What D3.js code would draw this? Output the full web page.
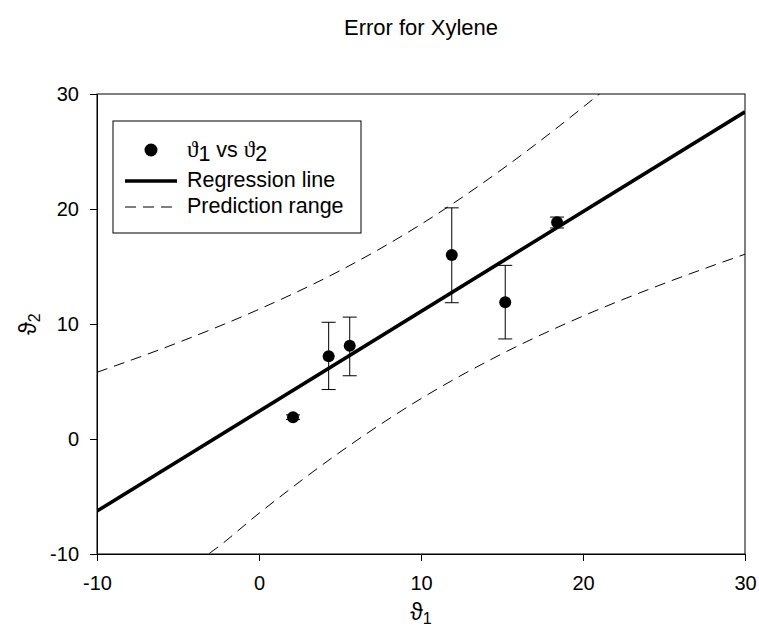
<!DOCTYPE html>
<html><head><meta charset="utf-8">
<script src="https://cdn.jsdelivr.net/npm/d3@7"></script>
<style>body{margin:0;background:#fff}text{font-family:Arial,"Liberation Sans",sans-serif}</style>
</head><body>
<svg id="c" width="759" height="643"></svg>
<script>
const xVals = [2.1, 4.3, 5.6, 11.9, 15.2, 18.4];
const yVals = [1.9, 7.2, 8.1, 16.0, 11.9, 18.85];
const errLow = [1.7, 4.3, 5.5, 11.85, 8.7, 18.35];
const errHigh = [2.1, 10.15, 10.6, 20.1, 15.1, 19.3];
const regX = [-10, 30];
const regY = [-6.27, 28.45];
const upperX = [-10, -5, 0, 5, 10, 15, 20, 21, 22];
const upperY = [5.8, 8.38, 11.28, 14.64, 18.67, 23.45, 28.85, 29.99, 31.1];
const lowerX = [-4, -3, 0, 5, 10, 15, 20, 25, 30];
const lowerY = [-10.8, -9.88, -6.46, -1.14, 3.51, 7.41, 10.69, 13.52, 16.07];
const xTicks = [-10, 0, 10, 20, 30];
const yTicks = [-10, 0, 10, 20, 30];
const title = "Error for Xylene";
const legendLabels = ["vs", "Regression line", "Prediction range"];

const svg = d3.select("#c");
const L = 97, R = 745, T = 94, B = 554;
const x = d3.scaleLinear().domain([-10, 30]).range([L, R]);
const y = d3.scaleLinear().domain([-10, 30]).range([B, T]);
const sans = "Arial, 'Liberation Sans', sans-serif";
const serif = "'Liberation Serif','Times New Roman',serif";

svg.append("text").attr("x", 421).attr("y", 35).attr("text-anchor", "middle")
  .attr("font-size", 22).text(title);

svg.append("defs").append("clipPath").attr("id", "clip")
  .append("rect").attr("x", L).attr("y", T).attr("width", R - L).attr("height", B - T);

svg.append("rect").attr("x", L).attr("y", T).attr("width", R - L).attr("height", B - T)
  .attr("fill", "none").attr("stroke", "#000").attr("stroke-width", 1);

const xa = svg.append("g").attr("transform", `translate(0,${B})`)
  .call(d3.axisBottom(x).tickValues(xTicks).tickSize(7).tickPadding(15).tickFormat(d => String(d)));
const ya = svg.append("g").attr("transform", `translate(${L},0)`)
  .call(d3.axisLeft(y).tickValues(yTicks).tickSize(7).tickPadding(11).tickFormat(d => String(d)));
[xa, ya].forEach(a => {
  a.selectAll("text").attr("font-size", 20).attr("font-family", sans).attr("fill", "#000");
  a.select(".domain").attr("stroke", "#000");
  a.selectAll(".tick line").attr("stroke", "#000");
});

const xl = svg.append("text").attr("x", 421).attr("y", 620).attr("text-anchor", "middle")
  .attr("font-family", serif).attr("font-size", 23);
xl.append("tspan").text("\u03d1");
xl.append("tspan").attr("dy", 4).attr("font-size", 16).text("1");

const yl = svg.append("text").attr("transform", "translate(36,324) rotate(-90)").attr("text-anchor", "middle")
  .attr("font-family", serif).attr("font-size", 23);
yl.append("tspan").text("\u03d1");
yl.append("tspan").attr("dy", 4).attr("font-size", 16).text("2");

const plot = svg.append("g").attr("clip-path", "url(#clip)");
const line = d3.line().x(d => x(d[0])).y(d => y(d[1])).curve(d3.curveMonotoneX);

plot.append("path").datum(d3.zip(upperX, upperY)).attr("d", line)
  .attr("fill", "none").attr("stroke", "#000").attr("stroke-width", 1).attr("stroke-dasharray", "11,7");
plot.append("path").datum(d3.zip(lowerX, lowerY)).attr("d", line)
  .attr("fill", "none").attr("stroke", "#000").attr("stroke-width", 1).attr("stroke-dasharray", "11,7");
plot.append("path").datum(d3.zip(regX, regY)).attr("d", d3.line().x(d => x(d[0])).y(d => y(d[1])))
  .attr("fill", "none").attr("stroke", "#000").attr("stroke-width", 3.5);

const pts = xVals.map((v, i) => ({x: v, y: yVals[i], lo: errLow[i], hi: errHigh[i]}));
const eb = plot.selectAll(".eb").data(pts).enter().append("g");
eb.append("line").attr("x1", d => x(d.x)).attr("x2", d => x(d.x)).attr("y1", d => y(d.lo)).attr("y2", d => y(d.hi))
  .attr("stroke", "#000").attr("stroke-width", 1);
eb.append("line").attr("x1", d => x(d.x) - 7).attr("x2", d => x(d.x) + 7).attr("y1", d => y(d.lo)).attr("y2", d => y(d.lo))
  .attr("stroke", "#000").attr("stroke-width", 1);
eb.append("line").attr("x1", d => x(d.x) - 7).attr("x2", d => x(d.x) + 7).attr("y1", d => y(d.hi)).attr("y2", d => y(d.hi))
  .attr("stroke", "#000").attr("stroke-width", 1);
plot.selectAll(".pt").data(pts).enter().append("circle")
  .attr("cx", d => x(d.x)).attr("cy", d => y(d.y)).attr("r", 6).attr("fill", "#000");

// legend
const lg = svg.append("g");
lg.append("rect").attr("x", 113).attr("y", 121).attr("width", 248).attr("height", 112)
  .attr("fill", "#fff").attr("stroke", "#000").attr("stroke-width", 1);
lg.append("circle").attr("cx", 151).attr("cy", 150).attr("r", 6.5).attr("fill", "#000");
lg.append("line").attr("x1", 125).attr("x2", 177).attr("y1", 181).attr("y2", 181).attr("stroke", "#000").attr("stroke-width", 3.5);
lg.append("line").attr("x1", 125).attr("x2", 177).attr("y1", 207).attr("y2", 207).attr("stroke", "#000").attr("stroke-width", 1).attr("stroke-dasharray", "11,7");
const t1 = lg.append("text").attr("x", 187).attr("y", 157).attr("font-size", 21.5);
t1.append("tspan").attr("font-family", serif).attr("font-size", 23).text("\u03d1");
t1.append("tspan").attr("dy", 4).attr("font-size", 21.5).text("1");
t1.append("tspan").attr("dy", -4).text(" " + legendLabels[0] + " ");
t1.append("tspan").attr("font-family", serif).attr("font-size", 23).text("\u03d1");
t1.append("tspan").attr("dy", 4).attr("font-size", 21.5).text("2");
lg.append("text").attr("x", 187).attr("y", 187).attr("font-size", 21.5).text(legendLabels[1]);
lg.append("text").attr("x", 187).attr("y", 213).attr("font-size", 21.5).text(legendLabels[2]);
</script>
</body></html>
